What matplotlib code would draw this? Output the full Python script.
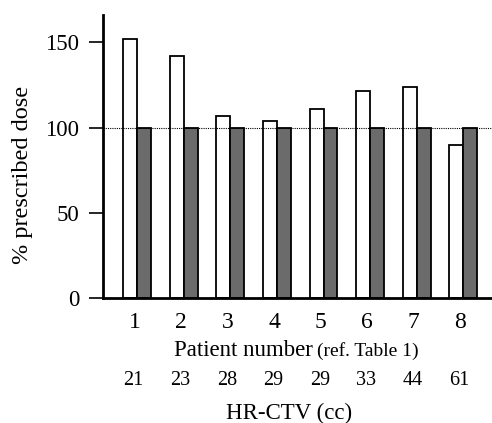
import numpy as np
import matplotlib.pyplot as plt
import matplotlib.transforms as mtransforms

# data
patients = [1, 2, 3, 4, 5, 6, 7, 8]
hrctv_cc = [21, 23, 28, 29, 29, 33, 44, 61]
dose_white = [152, 142, 107, 104, 111, 121.5, 124, 90]
dose_gray = [100, 100, 100, 100, 100, 100, 100, 100]

plt.rcParams['font.family'] = ['Liberation Serif', 'DejaVu Serif']

fig = plt.figure(figsize=(4.92, 4.23), dpi=100)
ax = fig.add_axes([0.2093, 0.2955, 0.80, 0.669])

x = np.array(patients)
w = 0.30
ax.bar(x - w / 2, dose_white, width=w, color='white', edgecolor='black', linewidth=1.3, zorder=2)
ax.bar(x + w / 2, dose_gray, width=w, color='#6b6b6b', edgecolor='black', linewidth=1.3, zorder=2)
ax.axhline(100, color='black', linestyle=(0, (1, 1)), linewidth=0.8, zorder=3)

ax.set_xlim(0.261, 8.718)
ax.set_ylim(0, 166)
ax.set_yticks([0, 50, 100, 150])
ax.tick_params(axis='y', direction='out', length=10, width=1.2, labelsize=16.5, pad=7)
ax.set_xticks(x)
ax.set_xticklabels([str(p) for p in patients], fontsize=17)
ax.tick_params(axis='x', length=0, pad=10)
for lbl in ax.get_xticklabels():
    lbl.set_transform(lbl.get_transform() + mtransforms.Affine2D().translate(-3, 0))

for s in ['top', 'right']:
    ax.spines[s].set_visible(False)
ax.spines['left'].set_linewidth(2)
ax.spines['bottom'].set_linewidth(2)

W, H = 492, 423
fig.text(23 / W, 1 - 175 / H, '% prescribed dose', fontsize=17.5, rotation=90, ha='center', va='center')

fig.text(313 / W, 1 - 350 / H, 'Patient number', fontsize=16.5, ha='right', va='center')
fig.text(317 / W, 1 - 351 / H, '(ref. Table 1)', fontsize=14, ha='left', va='center')

trans = mtransforms.blended_transform_factory(ax.transData, fig.transFigure)
for xi, v in zip(x, hrctv_cc):
    ax.text(xi - 0.08, 1 - 380 / H, str(v), fontsize=14.5, ha='center', va='center', transform=trans)

fig.text(289 / W, 1 - 413 / H, 'HR-CTV (cc)', fontsize=16.5, ha='center', va='center')

fig.savefig('out.png', dpi=100)
